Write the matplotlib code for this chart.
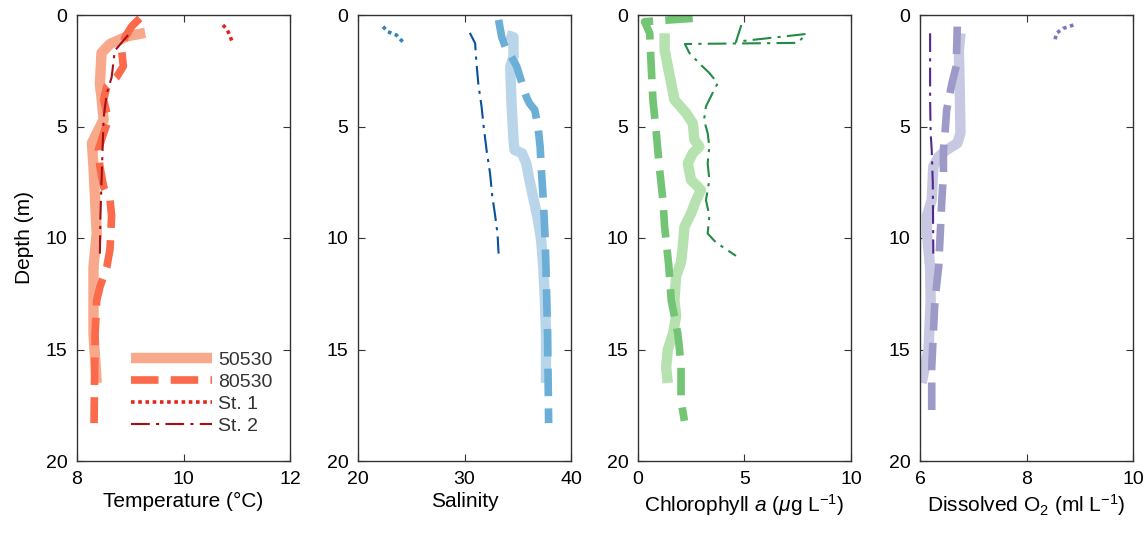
import numpy as np
import matplotlib
matplotlib.use("Agg")
import matplotlib.pyplot as plt

plt.rcParams['font.family'] = ['Liberation Sans Narrow', 'Liberation Sans', 'DejaVu Sans']
plt.rcParams['mathtext.fontset'] = 'custom'
plt.rcParams['mathtext.rm'] = 'Liberation Sans'
plt.rcParams['mathtext.it'] = 'Liberation Sans:italic'

# ---- temperature (deg C) vs depth (m) ----
temp_50530_t = [9.28, 8.95, 8.62, 8.46, 8.43, 8.46, 8.50, 8.37, 8.28, 8.31, 8.34, 8.37, 8.31, 8.31, 8.37]
temp_50530_d = [0.8, 0.95, 1.3, 1.7, 3.1, 3.7, 4.7, 5.3, 5.75, 6.8, 8.3, 9.8, 11.3, 14.3, 16.5]
temp_80530_t = [9.18, 9.03, 8.90, 8.84, 8.87, 8.74, 8.56, 8.50, 8.59, 8.50, 8.40, 8.43, 8.50, 8.62,
                8.65, 8.62, 8.56, 8.43, 8.37, 8.34, 8.32]
temp_80530_d = [0.15, 0.5, 1.0, 1.6, 2.3, 2.8, 3.2, 3.8, 4.7, 5.3, 6.05, 6.8, 7.7, 8.3,
                9.0, 10.5, 11.3, 12.2, 12.8, 14.3, 18.3]
temp_st1_t = [10.74, 10.80, 10.84, 10.91]
temp_st1_d = [0.45, 0.6, 0.76, 1.17]
temp_st2_t = [8.96, 8.71, 8.65, 8.56, 8.50, 8.48, 8.46, 8.44, 8.43]
temp_st2_d = [0.9, 1.6, 2.8, 3.5, 4.6, 6.05, 7.5, 9.0, 10.7]

# ---- salinity ----
sal_50530_s = [33.95, 34.6, 34.6, 34.3, 34.4, 34.6, 34.7, 35.4, 35.8, 36.1, 36.5, 36.9, 37.2,
               37.4, 37.55, 37.65, 37.65]
sal_50530_d = [0.9, 1.0, 1.9, 2.3, 3.8, 5.6, 6.05, 6.2, 6.65, 7.4, 8.3, 9.2, 10.1,
               11.3, 12.8, 14.3, 16.5]
sal_80530_s = [33.2, 33.5, 33.95, 34.4, 34.9, 35.4, 35.8, 36.1, 36.6, 36.9, 37.1, 37.2, 37.4,
               37.55, 37.65, 37.8, 37.9]
sal_80530_d = [0.22, 1.0, 1.57, 1.87, 2.3, 3.06, 3.66, 3.96, 4.26, 5.0, 5.9, 6.8, 8.3,
               9.8, 11.3, 14.3, 18.3]
sal_st1_s = [22.35, 22.8, 23.6, 24.2]
sal_st1_d = [0.52, 0.75, 0.9, 1.2]
sal_st2_s = [30.5, 31.0, 31.1, 31.3, 31.6, 31.8, 32.07, 32.4, 32.6, 32.85, 33.1, 33.2]
sal_st2_d = [0.8, 1.27, 2.0, 3.1, 4.1, 5.0, 6.05, 7.1, 8.1, 8.9, 9.8, 10.7]

# ---- chlorophyll a ----
chl_50530_c = [1.25, 1.25, 1.40, 1.56, 1.71, 2.26, 2.57, 2.65, 2.88, 2.57, 2.34, 2.49, 2.96, 2.73,
               2.49, 2.18, 2.10, 2.02, 1.79, 1.71, 1.79, 1.64, 1.40, 1.32, 1.40]
chl_50530_d = [0.82, 1.57, 2.3, 3.06, 3.8, 4.4, 4.86, 5.6, 5.9, 6.2, 6.65, 7.4, 7.85, 8.3,
               8.9, 9.5, 10.4, 11.1, 11.7, 12.8, 13.5, 14.3, 15.0, 15.8, 16.5]
chl_80530_c = [2.57, 0.31, 0.55, 0.62, 0.70, 0.86, 1.00, 1.17, 1.25, 1.32, 1.45, 1.56, 1.71,
               1.87, 1.95, 2.02, 2.02, 2.18]
chl_80530_d = [0.15, 0.3, 0.82, 2.3, 3.8, 5.3, 6.8, 8.3, 9.5, 10.1, 11.3, 12.8, 13.5,
               14.3, 15.0, 15.8, 17.3, 18.2]
chl_st2_c = [4.85, 4.6, 7.9, 7.5, 2.2, 2.41, 2.88, 3.35, 3.74, 3.5, 3.19, 3.1, 3.27, 3.35,
             3.27, 3.35, 3.19, 3.35, 3.27, 3.66, 4.13, 4.6]
chl_st2_d = [0.45, 1.2, 0.85, 1.25, 1.3, 1.7, 2.17, 2.6, 3.06, 3.5, 4.1, 4.7, 5.3, 5.9,
             6.65, 7.4, 8.3, 9.0, 9.8, 10.2, 10.5, 10.8]

# ---- dissolved O2 ----
oxy_50530_o = [6.76, 6.73, 6.75, 6.76, 6.70, 6.50, 6.35, 6.25, 6.22, 6.13, 6.13, 6.19, 6.20,
               6.16, 6.03]
oxy_50530_d = [0.82, 1.57, 3.8, 5.3, 5.75, 6.05, 6.35, 6.8, 8.3, 9.0, 9.8, 11.3, 12.8,
               15.0, 16.5]
oxy_80530_o = [6.70, 6.68, 6.60, 6.50, 6.47, 6.44, 6.44, 6.41, 6.38, 6.35, 6.28, 6.25, 6.22, 6.22]
oxy_80530_d = [0.52, 2.3, 3.06, 4.26, 5.3, 6.05, 7.1, 8.3, 9.8, 11.3, 12.8, 14.3, 15.8, 18.2]
oxy_st1_o = [8.88, 8.69, 8.56, 8.53]
oxy_st1_d = [0.45, 0.6, 0.82, 1.2]
oxy_st2_o = [6.19, 6.19, 6.20, 6.22, 6.24, 6.25]
oxy_st2_d = [0.82, 3.8, 5.3, 6.05, 7.5, 10.7]

labels = ['50530', '80530', 'St. 1', 'St. 2']

panels = [
    dict(series=[(temp_50530_t, temp_50530_d), (temp_80530_t, temp_80530_d),
                 (temp_st1_t, temp_st1_d), (temp_st2_t, temp_st2_d)],
         colors=['#f9a98b', '#fb6a4a', '#e3261e', '#a50f15'],
         xlim=(8, 12), xticks=[8, 10, 12], xlabel='Temperature (°C)'),
    dict(series=[(sal_50530_s, sal_50530_d), (sal_80530_s, sal_80530_d),
                 (sal_st1_s, sal_st1_d), (sal_st2_s, sal_st2_d)],
         colors=['#b9d5ea', '#6baed6', '#3182bd', '#08519c'],
         xlim=(20, 40), xticks=[20, 30, 40], xlabel='Salinity'),
    dict(series=[(chl_50530_c, chl_50530_d), (chl_80530_c, chl_80530_d),
                 None, (chl_st2_c, chl_st2_d)],
         colors=['#b5e2ae', '#74c476', '#41ab5d', '#238b45'],
         xlim=(0, 10), xticks=[0, 5, 10], xlabel='Chlorophyll $a$ ($\\mu$g L$^{-1}$)'),
    dict(series=[(oxy_50530_o, oxy_50530_d), (oxy_80530_o, oxy_80530_d),
                 (oxy_st1_o, oxy_st1_d), (oxy_st2_o, oxy_st2_d)],
         colors=['#c9c8e2', '#9e9ac8', '#7d75bb', '#54278f'],
         xlim=(6, 10), xticks=[6, 8, 10], xlabel='Dissolved O$_2$ (ml L$^{-1}$)'),
]

styles = [dict(ls='-', lw=7.5, solid_capstyle='butt'),
          dict(ls=(0, (3.6, 1.6)), lw=5.5, dash_capstyle='butt'),
          dict(ls=(0, (1, 1)), lw=2.6, dash_capstyle='butt'),
          dict(ls=(0, (9, 3, 1.5, 3)), lw=1.5)]

fig = plt.figure(figsize=(11.45, 5.38), dpi=100)
lefts = [77, 358, 638, 920]
for k, p in enumerate(panels):
    ax = fig.add_axes([lefts[k] / 1145, 77 / 538, 213 / 1145, 446 / 538])
    handles = []
    for i, s in enumerate(p['series']):
        if s is None:
            continue
        h, = ax.plot(s[0], s[1], color=p['colors'][i], label=labels[i], **styles[i])
        handles.append(h)
    ax.set_xlim(*p['xlim'])
    ax.set_ylim(20, 0)
    ax.set_xticks(p['xticks'])
    ax.set_yticks([0, 5, 10, 15, 20])
    ax.tick_params(direction='in', top=True, right=True, length=5, width=0.8,
                   labelsize=14, colors='#333333', labelcolor='black', pad=7)
    for sp in ax.spines.values():
        sp.set_color('#333333')
        sp.set_linewidth(1.0)
    ax.set_xlabel(p['xlabel'], fontsize=15, labelpad=3)
    if k == 0:
        ax.set_ylabel('Depth (m)', fontsize=15, labelpad=8)
        leg = ax.legend(handles=handles, loc='lower right', bbox_to_anchor=(1.0, 0.02),
                        frameon=False, fontsize=14, handlelength=4.2, labelspacing=0.22,
                        handletextpad=0.3)
        for t in leg.get_texts():
            t.set_color('#333333')

fig.savefig('out.png', dpi=100)
